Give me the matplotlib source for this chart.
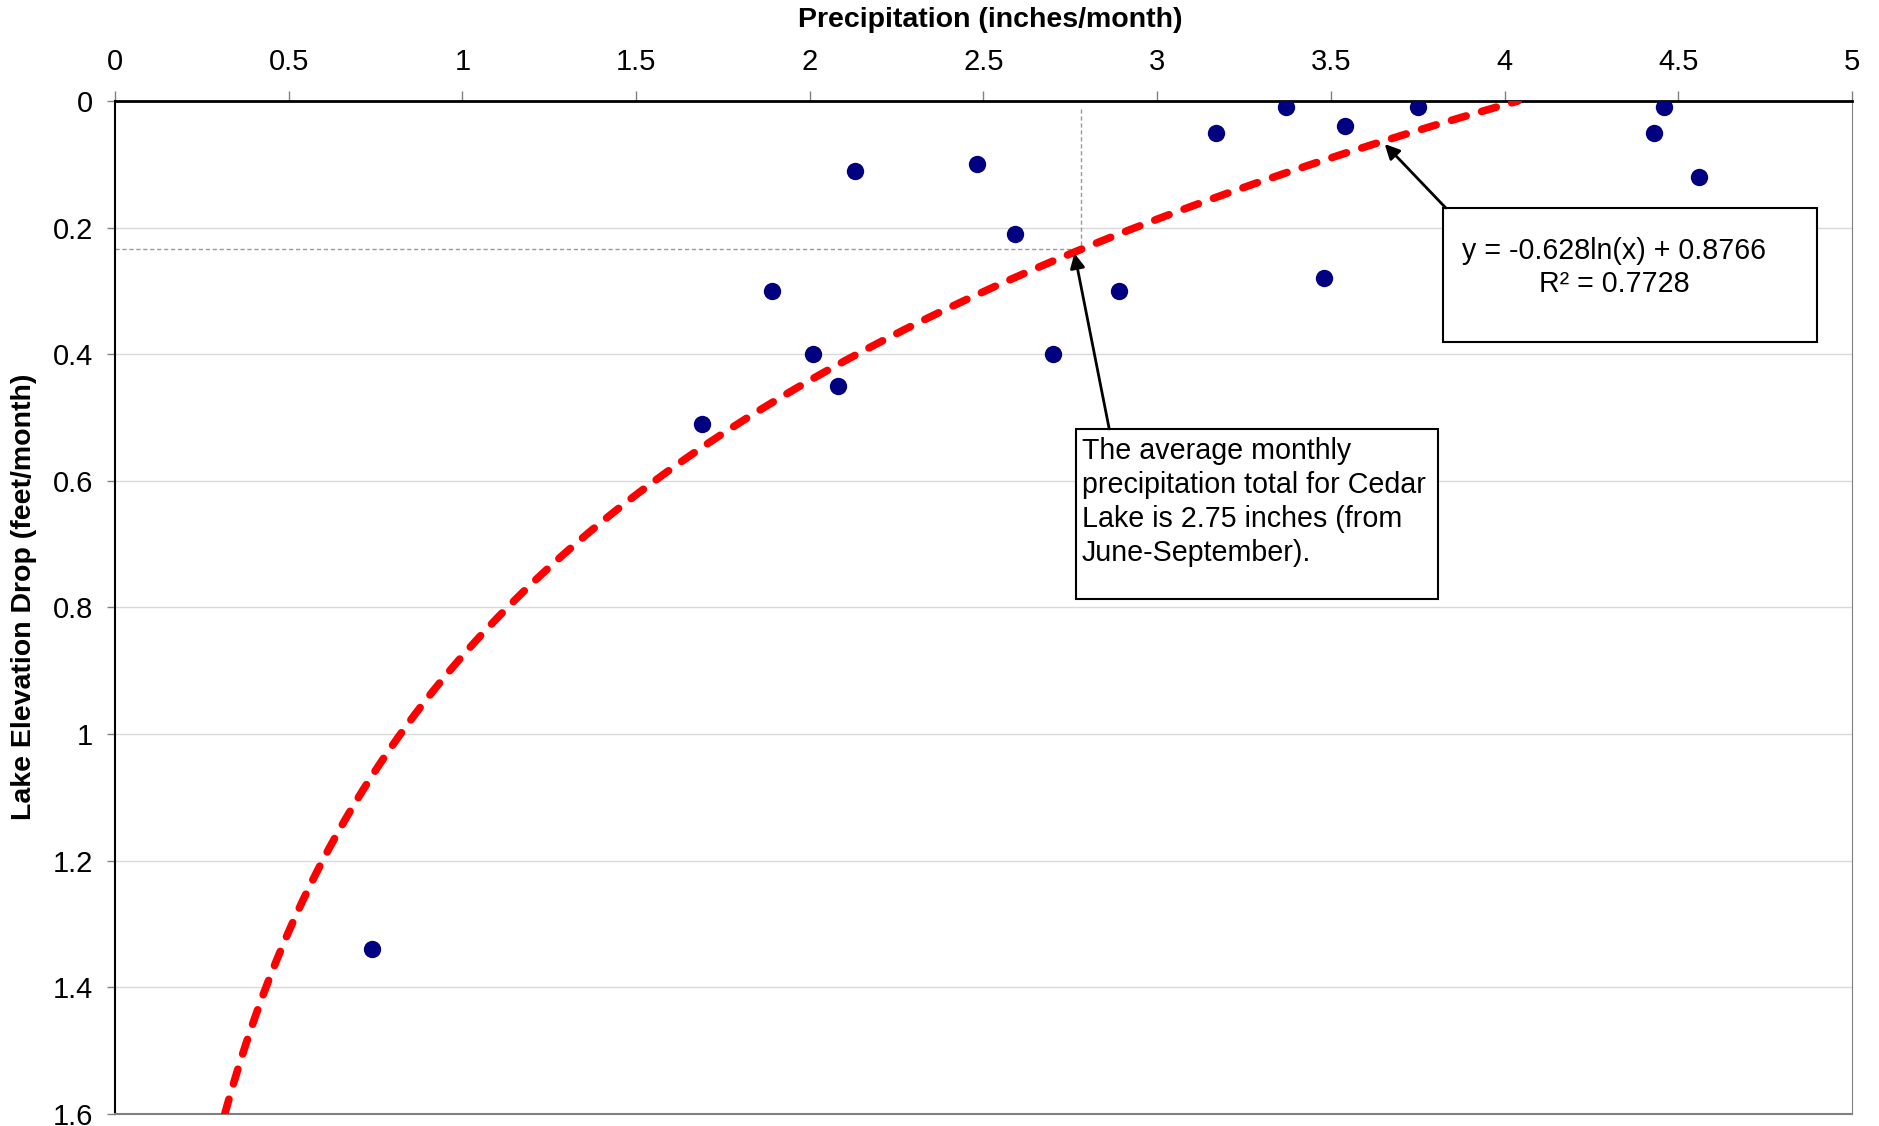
import numpy as np
import matplotlib.pyplot as plt
from matplotlib.patches import Rectangle

plt.rcParams['font.family'] = ['Liberation Sans', 'DejaVu Sans']

# observed monthly values
precip = [0.74, 1.69, 1.89, 2.01, 2.08, 2.13, 2.48, 2.59, 2.70, 2.89,
          3.17, 3.37, 3.48, 3.54, 3.75, 4.43, 4.46, 4.56]
drop = [1.34, 0.51, 0.30, 0.40, 0.45, 0.11, 0.10, 0.21, 0.40, 0.30,
        0.05, 0.01, 0.28, 0.04, 0.01, 0.05, 0.01, 0.12]

# log trendline coefficients (from the chart's equation)
slope = -0.628
intercept = 0.8766
r2 = 0.7728

avg_precip = 2.78

xticks = [0, 0.5, 1, 1.5, 2, 2.5, 3, 3.5, 4, 4.5, 5]
xtick_labels = ['0', '0.5', '1', '1.5', '2', '2.5', '3', '3.5', '4', '4.5', '5']
yticks = [0, 0.2, 0.4, 0.6, 0.8, 1, 1.2, 1.4, 1.6]
ytick_labels = ['0', '0.2', '0.4', '0.6', '0.8', '1', '1.2', '1.4', '1.6']

fig = plt.figure(figsize=(18.79, 11.26), dpi=100)
ax = fig.add_axes([0.0612, 0.0107, 0.9244, 0.8996])

# trendline from where it leaves the bottom to where it reaches zero
x_lo = np.exp((1.6 - intercept) / slope)
x_hi = np.exp((0 - intercept) / slope)
xs = np.linspace(x_lo, x_hi, 300)
ax.plot(xs, slope * np.log(xs) + intercept, color='#FF0000', lw=5.5,
        dashes=(2.0, 2.1), dash_capstyle='round', zorder=3)

ax.scatter(precip, drop, s=12.5**2, color='#000080', zorder=4, linewidths=0)

# average precipitation guide lines
y_avg = slope * np.log(avg_precip) + intercept
ax.plot([avg_precip, avg_precip], [0.012, y_avg], color='#999999', lw=1,
        dashes=(3, 2), zorder=2)
ax.plot([0, avg_precip], [y_avg, y_avg], color='#999999', lw=1,
        dashes=(3, 2), zorder=2)

ax.set_xlim(0, 5)
ax.set_ylim(1.6, 0)
ax.set_xticks(xticks)
ax.set_xticklabels(xtick_labels)
ax.set_yticks(yticks)
ax.set_yticklabels(ytick_labels)
ax.xaxis.tick_top()
ax.xaxis.set_label_position('top')
ax.tick_params(axis='x', direction='out', length=7, width=1, color='#808080',
               labelsize=21, pad=11)
ax.tick_params(axis='y', direction='out', length=6, width=1, color='#808080',
               labelsize=21, pad=10)
ax.yaxis.grid(True, color='#D9D9D9', lw=1)
ax.set_axisbelow(True)

ax.spines['top'].set_color('black')
ax.spines['top'].set_linewidth(2)
ax.spines['left'].set_color('black')
ax.spines['left'].set_linewidth(1.5)
ax.spines['right'].set_color('#808080')
ax.spines['bottom'].set_color('#808080')
ax.spines['bottom'].set_linewidth(1.5)

ax.set_xlabel('Precipitation (inches/month)', fontsize=20.5, fontweight='bold')
ax.xaxis.set_label_coords(0.504, 1.0796)
ax.xaxis.label.set_va('center')
ax.set_ylabel('Lake Elevation Drop (feet/month)', fontsize=20.5,
              fontweight='bold')
ax.yaxis.set_label_coords(-0.0524, 0.511)
ax.yaxis.label.set_va('center')

# annotation boxes
ax.add_patch(Rectangle((2.766, 0.518), 1.042, 0.269, facecolor='white',
                       edgecolor='black', lw=1.5, zorder=5))
ax.text(2.783, 0.531, 'The average monthly\nprecipitation total for Cedar\n'
        'Lake is 2.75 inches (from\nJune-September).', fontsize=20.6,
        ha='left', va='top', linespacing=1.27, zorder=6)
ax.annotate('', xy=(2.762, 0.2405), xytext=(2.862, 0.518),
            arrowprops=dict(arrowstyle='-|>', color='black', lw=2,
                            mutation_scale=22, shrinkA=0, shrinkB=0),
            zorder=6)

ax.add_patch(Rectangle((3.823, 0.169), 1.076, 0.212, facecolor='white',
                       edgecolor='black', lw=1.5, zorder=5))
ax.text(4.315, 0.263, 'y = %.3fln(x) + %.4f\nR² = %.4f' % (slope, intercept, r2),
        fontsize=20.6, ha='center', va='center', multialignment='center',
        linespacing=1.25, zorder=6)
ax.annotate('', xy=(3.655, 0.068), xytext=(3.831, 0.169),
            arrowprops=dict(arrowstyle='-|>', color='black', lw=2,
                            mutation_scale=22, shrinkA=0, shrinkB=0),
            zorder=6)

fig.savefig('out.png', dpi=100, facecolor='white')
